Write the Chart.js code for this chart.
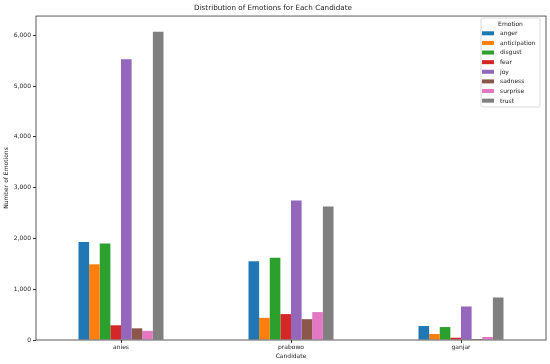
<!DOCTYPE html>
<html>
<head>
<meta charset="utf-8">
<script src="https://cdn.jsdelivr.net/npm/chart.js@4.4.0/dist/chart.umd.min.js"></script>
<style>
  html, body { margin: 0; padding: 0; background: #fff; }
  #wrap { width: 550px; height: 364px; }
</style>
</head>
<body>
<div id="wrap"><canvas id="barChart" width="550" height="364"></canvas></div>
<script>
// data
const candidates = ['anies', 'prabowo', 'ganjar'];
const emotions = ['anger', 'anticipation', 'disgust', 'fear', 'joy', 'sadness', 'surprise', 'trust'];
const colors = ['#1f77b4', '#ff7f0e', '#2ca02c', '#d62728', '#9467bd', '#8c564b', '#e377c2', '#7f7f7f'];

const anger = [1930, 1550, 275];
const anticipation = [1490, 437, 118];
const disgust = [1900, 1620, 255];
const fear = [290, 510, 45];
const joy = [5530, 2745, 660];
const sadness = [230, 410, 20];
const surprise = [180, 550, 59];
const trust = [6070, 2630, 837];

const series = [anger, anticipation, disgust, fear, joy, sadness, surprise, trust];
const yTicks = [0, 1000, 2000, 3000, 4000, 5000, 6000];

const FONT = "'DejaVu Sans', sans-serif";
const AXIS = '#333';

// frame around the plot + legend inside it, like matplotlib
const framePlugin = {
    id: 'frame',
    afterDraw(chart) {
        const ctx = chart.ctx;
        const a = chart.chartArea;
        ctx.save();
        ctx.strokeStyle = AXIS;
        ctx.lineWidth = 0.8;
        ctx.strokeRect(a.left, a.top, a.right - a.left, a.bottom - a.top);

        // legend box
        const x = 481, y = 18, w = 59, h = 89;
        ctx.fillStyle = 'rgba(255,255,255,0.8)';
        ctx.strokeStyle = '#d0d0d0';
        ctx.lineWidth = 0.8;
        ctx.beginPath();
        ctx.roundRect(x, y, w, h, 2);
        ctx.fill();
        ctx.stroke();

        ctx.fillStyle = '#222';
        ctx.font = '6px ' + FONT;
        ctx.textAlign = 'center';
        ctx.textBaseline = 'middle';
        ctx.fillText('Emotion', x + w / 2, y + 6);

        ctx.textAlign = 'left';
        chart.data.datasets.forEach(function (ds, i) {
            const ry = 33.3 + i * 9.62;
            ctx.fillStyle = ds.backgroundColor;
            ctx.fillRect(x + 1, ry - 2, 12, 4);
            ctx.fillStyle = '#222';
            ctx.fillText(ds.label, x + 19, ry + 0.3);
        });
        ctx.restore();
    }
};

const ctxBar = document.getElementById('barChart').getContext('2d');
const barChart = new Chart(ctxBar, {
    type: 'bar',
    data: {
        labels: candidates,
        datasets: emotions.map(function (name, i) {
            return {
                label: name,
                data: series[i],
                backgroundColor: colors[i],
                borderWidth: 0,
                categoryPercentage: 0.5,
                barPercentage: 1.0
            };
        })
    },
    options: {
        responsive: false,
        animation: false,
        devicePixelRatio: 1,
        layout: { padding: { left: 0, right: 4, top: 0, bottom: 0 } },
        plugins: {
            legend: { display: false },
            tooltip: { enabled: false },
            title: {
                display: true,
                text: 'Distribution of Emotions for Each Candidate',
                color: '#222',
                font: { family: FONT, size: 7.2, weight: 'normal' },
                padding: { top: 4, bottom: 3.4 }
            }
        },
        scales: {
            x: {
                grid: { display: true, drawOnChartArea: false, offset: false, color: AXIS, tickLength: 3, tickColor: AXIS },
                border: { display: false },
                ticks: { color: '#222', font: { family: FONT, size: 6 }, padding: 1, maxRotation: 0 },
                title: { display: true, text: 'Candidate', color: '#222', font: { family: FONT, size: 6 }, padding: { top: 1, bottom: 4 } },
                afterFit: function (scale) { scale.height = 24; }
            },
            y: {
                min: 0,
                max: 6379,
                grid: { display: true, drawOnChartArea: false, color: AXIS, tickLength: 3, tickColor: AXIS },
                border: { display: false },
                afterBuildTicks: function (scale) {
                    scale.ticks = yTicks.map(function (v) { return { value: v }; });
                },
                ticks: {
                    color: '#222',
                    font: { family: FONT, size: 6 },
                    padding: 2,
                    callback: function (v) { return v.toLocaleString('en-US'); }
                },
                title: { display: true, text: 'Number of Emotions', color: '#222', font: { family: FONT, size: 6 }, padding: { top: 3, bottom: 2 } },
                afterFit: function (scale) { scale.width = 36; }
            }
        }
    },
    plugins: [framePlugin]
});
</script>
</body>
</html>
